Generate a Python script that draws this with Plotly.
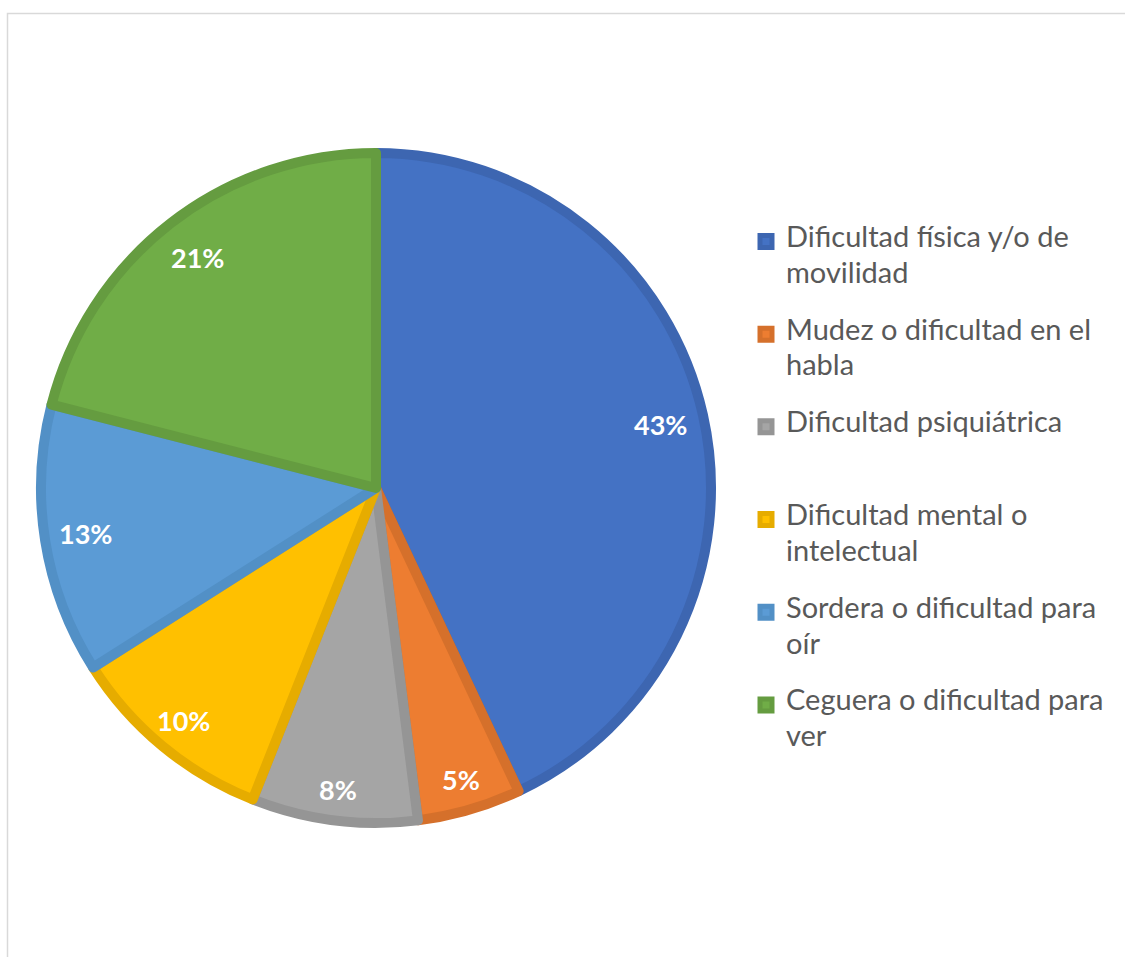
import math
import plotly.graph_objects as go

categories = [
    ["Dificultad física y/o de", "movilidad"],
    ["Mudez o dificultad en el", "habla"],
    ["Dificultad psiquiátrica"],
    ["Dificultad mental o", "intelectual"],
    ["Sordera o dificultad para", "oír"],
    ["Ceguera o dificultad para", "ver"],
]
values = [43, 5, 8, 10, 13, 21]
fill_colors = ["#4472C4", "#ED7D31", "#A5A5A5", "#FFC000", "#5B9BD5", "#70AD47"]
edge_colors = ["#3D66B1", "#D5702B", "#959595", "#E6AC00", "#5290C6", "#659C40"]

W, H = 1125, 957
TXT = 29  # legend glyph size


def legend_label(lines):
    # each text line followed by a thin spacer line; total 5 lines per entry
    parts = [f"<span style='font-size:{TXT}px'>{ln}</span>" for ln in lines]
    out = []
    for p in parts:
        out.append(p)
        out.append(" ")
    while len(out) < 5:
        out.append(" ")
    return "<br>".join(out[:5])


labels = [legend_label(c) for c in categories]

# pie geometry (pixels)
cx_px, cy_px, r_px = 376, 488, 335
dom_x = [(cx_px - r_px) / W, (cx_px + r_px) / W]
dom_y = [(H - cy_px - r_px) / H, (H - cy_px + r_px) / H]

fig = go.Figure()
fig.add_trace(go.Pie(
    labels=labels,
    values=values,
    sort=False,
    direction="clockwise",
    rotation=0,
    marker=dict(colors=fill_colors, line=dict(color=edge_colors, width=10)),
    textinfo="none",
    hoverinfo="percent",
    domain=dict(x=dom_x, y=dom_y),
))

# percentage labels placed along each slice's mid-angle
total = sum(values)
cum = 0
for v in values:
    mid = (cum + v / 2) / total * 2 * math.pi
    cum += v
    lab_r = 292 + 12 * max(0.0, -math.cos(mid))
    px = cx_px + lab_r * math.sin(mid)
    py = cy_px - lab_r * math.cos(mid)
    fig.add_annotation(
        x=px / W, y=1 - py / H, xref="paper", yref="paper",
        text=f"<b>{round(v / total * 100)}%</b>", showarrow=False,
        font=dict(family="Lato", size=27, color="white"),
        xanchor="center", yanchor="middle",
    )

fig.add_shape(type="rect", xref="paper", yref="paper",
              x0=7.5 / W, x1=1.05, y0=-0.05, y1=1 - 13.5 / H,
              line=dict(color="#D9D9D9", width=1.5), fillcolor="rgba(0,0,0,0)")

fig.update_layout(
    width=W, height=H,
    margin=dict(l=0, r=0, t=0, b=0),
    paper_bgcolor="white",
    plot_bgcolor="white",
    showlegend=True,
    legend=dict(
        x=746 / W, y=1 - 226 / H, xanchor="left", yanchor="top",
        font=dict(family="Lato", size=13.8, color="#595959"),
        valign="top", bgcolor="rgba(0,0,0,0)",
        traceorder="normal",
    ),
)

fig.write_html("out.html", config={"displayModeBar": False},
               post_script="document.body.style.margin='0';")
